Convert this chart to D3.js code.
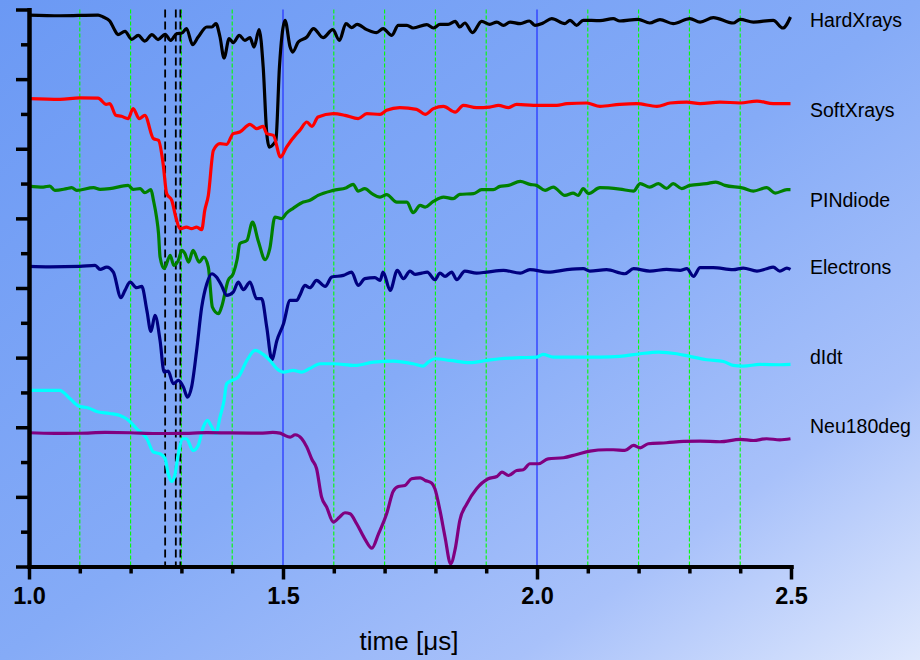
<!DOCTYPE html>
<html>
<head>
<meta charset="utf-8">
<script src="https://cdn.jsdelivr.net/npm/d3@7"></script>
<style>
  html, body { margin: 0; padding: 0; }
  svg { display: block; font-family: "Liberation Sans", Arial, sans-serif; }
</style>
</head>
<body>
<div id="chart"></div>
<script>
// time in µs, signal in stacked display units (y axis runs 0..8, no labels)

const xMajorTicks = [1.0, 1.5, 2.0, 2.5];
const xMinorTicks = [1.1, 1.2, 1.3, 1.4, 1.6, 1.7, 1.8, 1.9, 2.1, 2.2, 2.3, 2.4];
const yMajorTicks = [0, 1, 2, 3, 4, 5, 6, 7, 8];
const yMinorTicks = [0.5, 1.5, 2.5, 3.5, 4.5, 5.5, 6.5, 7.5];
const greenGrid = [1.1, 1.2, 1.3, 1.4, 1.6, 1.7, 1.8, 1.9, 2.1, 2.2, 2.3, 2.4];
const blueGrid = [1.5, 2.0];
const markerTimes = [1.268, 1.289, 1.298];

const seriesNames = ["HardXrays", "SoftXrays", "PINdiode", "Electrons", "dIdt", "Neu180deg"];

const hardXrays = [
  [1.000,7.92],[1.061,7.91],[1.136,7.92],[1.146,7.892],[1.159,7.835],[1.169,7.701],[1.175,7.639],
  [1.189,7.687],[1.202,7.572],[1.215,7.629],[1.228,7.547],[1.242,7.639],[1.254,7.568],[1.268,7.644],
  [1.279,7.557],[1.291,7.654],[1.301,7.662],[1.310,7.726],[1.322,7.496],[1.333,7.605],[1.350,7.749],
  [1.360,7.749],[1.368,7.797],[1.376,7.605],[1.384,7.303],[1.394,7.582],[1.402,7.524],[1.414,7.629],
  [1.425,7.557],[1.435,7.596],[1.443,7.461],[1.453,7.711],[1.461,7.174],[1.468,6.221],[1.473,6.024],
  [1.482,6.073],[1.486,6.121],[1.493,7.174],[1.498,7.629],[1.504,7.845],[1.514,7.461],[1.519,7.389],
  [1.530,7.533],[1.547,7.605],[1.560,7.726],[1.579,7.596],[1.598,7.711],[1.611,7.557],[1.624,7.797],
  [1.635,7.740],[1.646,7.787],[1.665,7.711],[1.684,7.668],[1.697,7.726],[1.714,7.629],[1.727,7.773],
  [1.744,7.773],[1.756,7.734],[1.783,7.783],[1.796,7.734],[1.809,7.787],[1.825,7.787],[1.839,7.830],
  [1.848,7.749],[1.858,7.806],[1.873,7.668],[1.891,7.830],[1.907,7.787],[1.921,7.820],[1.934,7.773],
  [1.947,7.820],[1.967,7.797],[1.985,7.835],[1.996,7.773],[2.012,7.806],[2.029,7.869],[2.055,7.797],
  [2.065,7.845],[2.078,7.773],[2.091,7.845],[2.124,7.840],[2.150,7.869],[2.163,7.835],[2.199,7.859],
  [2.222,7.806],[2.242,7.855],[2.268,7.797],[2.301,7.869],[2.321,7.820],[2.347,7.884],[2.386,7.806],
  [2.400,7.859],[2.426,7.820],[2.465,7.845],[2.484,7.734],[2.499,7.892]
];

const softXrays = [
  [1.000,6.720],[1.061,6.710],[1.100,6.731],[1.136,6.728],[1.152,6.638],[1.159,6.648],[1.171,6.480],
  [1.182,6.466],[1.195,6.432],[1.205,6.576],[1.217,6.432],[1.228,6.480],[1.245,6.145],[1.255,6.121],
  [1.264,5.786],[1.271,5.355],[1.281,5.259],[1.289,5.019],[1.297,4.852],[1.310,4.875],[1.320,4.852],
  [1.330,4.875],[1.340,4.838],[1.346,5.115],[1.353,5.330],[1.363,5.977],[1.376,6.073],[1.389,6.063],
  [1.402,6.217],[1.415,6.240],[1.435,6.351],[1.448,6.289],[1.461,6.322],[1.468,6.217],[1.481,6.193],
  [1.495,5.881],[1.507,6.024],[1.527,6.217],[1.533,6.264],[1.547,6.384],[1.557,6.322],[1.569,6.455],
  [1.599,6.504],[1.622,6.480],[1.648,6.432],[1.665,6.504],[1.691,6.494],[1.704,6.552],[1.730,6.591],
  [1.763,6.566],[1.780,6.494],[1.796,6.576],[1.816,6.609],[1.839,6.527],[1.855,6.624],[1.881,6.591],
  [1.907,6.599],[1.924,6.624],[1.944,6.591],[1.960,6.638],[1.993,6.624],[2.039,6.624],[2.059,6.648],
  [2.098,6.657],[2.124,6.609],[2.163,6.638],[2.196,6.648],[2.236,6.609],[2.262,6.657],[2.295,6.671],
  [2.321,6.648],[2.360,6.671],[2.400,6.657],[2.433,6.685],[2.465,6.648],[2.499,6.648]
];

const pinDiode = [
  [1.000,5.464],[1.028,5.450],[1.041,5.464],[1.051,5.402],[1.074,5.427],[1.084,5.441],[1.094,5.402],
  [1.127,5.441],[1.140,5.417],[1.159,5.427],[1.195,5.474],[1.205,5.417],[1.219,5.427],[1.228,5.369],
  [1.240,5.412],[1.245,5.259],[1.251,5.019],[1.255,4.780],[1.258,4.444],[1.266,4.277],[1.278,4.468],
  [1.285,4.325],[1.294,4.397],[1.301,4.540],[1.307,4.493],[1.314,4.372],[1.323,4.540],[1.335,4.372],
  [1.344,4.444],[1.353,4.300],[1.361,3.726],[1.373,3.631],[1.379,3.726],[1.392,4.109],[1.402,4.205],
  [1.410,4.421],[1.415,4.637],[1.429,4.684],[1.440,4.947],[1.451,4.684],[1.465,4.407],[1.474,4.565],
  [1.484,5.019],[1.497,4.996],[1.507,5.076],[1.520,5.144],[1.540,5.234],[1.553,5.259],[1.569,5.330],
  [1.599,5.402],[1.625,5.441],[1.638,5.489],[1.648,5.392],[1.661,5.427],[1.675,5.355],[1.691,5.306],
  [1.704,5.341],[1.724,5.234],[1.744,5.234],[1.756,5.082],[1.770,5.187],[1.780,5.162],[1.796,5.244],
  [1.816,5.306],[1.835,5.283],[1.848,5.345],[1.875,5.355],[1.891,5.412],[1.914,5.412],[1.927,5.460],
  [1.944,5.474],[1.967,5.532],[1.986,5.489],[1.999,5.474],[2.016,5.402],[2.032,5.450],[2.055,5.330],
  [2.071,5.364],[2.081,5.330],[2.091,5.427],[2.101,5.355],[2.124,5.441],[2.163,5.420],[2.190,5.392],
  [2.203,5.499],[2.222,5.450],[2.239,5.499],[2.255,5.431],[2.268,5.499],[2.285,5.427],[2.301,5.474],
  [2.334,5.499],[2.352,5.522],[2.370,5.474],[2.406,5.435],[2.426,5.392],[2.452,5.441],[2.469,5.364],
  [2.492,5.412],[2.499,5.412]
];

const electrons = [
  [1.000,4.310],[1.041,4.303],[1.100,4.310],[1.130,4.325],[1.140,4.267],[1.153,4.300],[1.166,4.228],
  [1.181,3.861],[1.189,3.966],[1.199,4.085],[1.212,4.004],[1.222,4.023],[1.232,3.678],[1.240,3.376],
  [1.248,3.606],[1.258,3.247],[1.266,2.792],[1.274,2.806],[1.284,2.625],[1.294,2.672],[1.304,2.576],
  [1.312,2.432],[1.320,2.576],[1.330,3.103],[1.340,3.726],[1.350,4.062],[1.360,4.205],[1.369,4.157],
  [1.379,4.037],[1.389,3.894],[1.402,3.941],[1.412,4.085],[1.422,3.976],[1.435,4.085],[1.448,3.846],
  [1.458,3.846],[1.468,3.438],[1.478,2.970],[1.488,3.247],[1.501,3.487],[1.514,3.822],[1.527,3.822],
  [1.533,3.894],[1.543,4.037],[1.553,4.004],[1.566,4.109],[1.583,4.023],[1.596,4.157],[1.619,4.181],
  [1.635,4.228],[1.648,4.037],[1.661,4.134],[1.681,4.148],[1.691,4.109],[1.697,4.228],[1.711,3.966],
  [1.725,4.253],[1.737,4.134],[1.750,4.243],[1.760,4.195],[1.773,4.214],[1.784,4.228],[1.799,4.119],
  [1.809,4.214],[1.819,4.167],[1.832,4.228],[1.842,4.119],[1.858,4.243],[1.881,4.214],[1.901,4.228],
  [1.934,4.253],[1.967,4.214],[1.986,4.263],[2.022,4.228],[2.059,4.263],[2.091,4.277],[2.104,4.243],
  [2.137,4.263],[2.173,4.205],[2.190,4.277],[2.222,4.243],[2.255,4.267],[2.282,4.253],[2.295,4.277],
  [2.308,4.167],[2.321,4.292],[2.347,4.292],[2.386,4.263],[2.406,4.286],[2.433,4.243],[2.452,4.277],
  [2.465,4.300],[2.478,4.243],[2.492,4.286],[2.499,4.267]
];

const dIdt = [
  [1.000,2.529],[1.060,2.529],[1.081,2.409],[1.097,2.306],[1.117,2.277],[1.133,2.227],[1.159,2.198],
  [1.179,2.170],[1.192,2.122],[1.212,1.978],[1.232,1.835],[1.245,1.642],[1.258,1.619],[1.268,1.547],
  [1.274,1.332],[1.281,1.221],[1.287,1.307],[1.294,1.619],[1.303,1.835],[1.310,1.835],[1.323,1.667],
  [1.333,1.739],[1.343,2.001],[1.351,2.098],[1.360,2.001],[1.368,1.907],[1.376,2.145],[1.384,2.385],
  [1.389,2.625],[1.399,2.672],[1.412,2.720],[1.429,2.960],[1.445,3.103],[1.461,3.046],[1.474,2.960],
  [1.488,2.841],[1.501,2.792],[1.520,2.816],[1.537,2.792],[1.553,2.845],[1.573,2.912],[1.599,2.912],
  [1.642,2.888],[1.678,2.935],[1.717,2.950],[1.756,2.912],[1.776,2.878],[1.786,2.935],[1.799,2.984],
  [1.829,2.960],[1.868,2.927],[1.901,2.960],[1.927,2.984],[1.967,2.999],[1.999,3.007],[2.012,3.046],
  [2.032,3.007],[2.078,3.007],[2.124,3.007],[2.163,3.017],[2.203,3.056],[2.239,3.079],[2.275,3.056],
  [2.301,3.017],[2.334,2.970],[2.367,2.945],[2.386,2.888],[2.406,2.878],[2.439,2.902],[2.478,2.898],
  [2.499,2.902]
];

const neu180deg = [
  [1.000,1.921],[1.050,1.912],[1.100,1.914],[1.150,1.925],[1.199,1.921],[1.250,1.910],[1.297,1.911],
  [1.350,1.922],[1.396,1.918],[1.455,1.915],[1.480,1.925],[1.494,1.915],[1.501,1.892],[1.514,1.858],
  [1.524,1.892],[1.537,1.835],[1.547,1.714],[1.557,1.537],[1.566,1.408],[1.576,0.996],[1.586,0.852],
  [1.599,0.637],[1.611,0.708],[1.622,0.772],[1.632,0.757],[1.645,0.614],[1.661,0.398],[1.675,0.263],
  [1.688,0.470],[1.704,0.757],[1.717,1.082],[1.727,1.149],[1.740,1.164],[1.753,1.260],[1.770,1.274],
  [1.780,1.236],[1.793,1.197],[1.799,1.116],[1.809,0.805],[1.819,0.421],[1.830,0.039],[1.839,0.254],
  [1.848,0.661],[1.862,0.901],[1.881,1.116],[1.904,1.260],[1.921,1.293],[1.931,1.355],[1.944,1.307],
  [1.960,1.379],[1.973,1.389],[1.986,1.476],[2.003,1.476],[2.022,1.547],[2.052,1.562],[2.078,1.609],
  [2.104,1.657],[2.137,1.677],[2.150,1.677],[2.173,1.667],[2.190,1.739],[2.203,1.705],[2.219,1.763],
  [2.255,1.777],[2.288,1.796],[2.321,1.800],[2.360,1.792],[2.400,1.825],[2.426,1.810],[2.452,1.835],
  [2.478,1.820],[2.499,1.835]
];

const seriesData = [hardXrays, softXrays, pinDiode, electrons, dIdt, neu180deg];

// ---- styling / layout ----
const colors = ["#000000", "#ff0000", "#008000", "#000080", "#00ffff", "#800080"];
const labelBaselines = [26.7, 116.7, 206.7, 274, 364, 433.3];
const W = 920, H = 660;

const x = d3.scaleLinear().domain([1.0, 2.5]).range([29, 791]);
const y = d3.scaleLinear().domain([0, 8]).range([566.5, 9.5]);

const svg = d3.select("#chart").append("svg")
    .attr("width", W)
    .attr("height", H);

const grad = svg.append("defs").append("linearGradient")
    .attr("id", "bg")
    .attr("x1", 0).attr("y1", 0)
    .attr("x2", 1).attr("y2", 1);
grad.selectAll("stop")
    .data([[0, "#6b99f4"], [0.5, "#85abf7"], [0.78, "#a8c1fa"], [1, "#dfe8fd"]])
    .join("stop")
    .attr("offset", d => d[0])
    .attr("stop-color", d => d[1]);

svg.append("rect")
    .attr("width", W)
    .attr("height", H)
    .attr("fill", "url(#bg)");

// grid lines
svg.append("g").selectAll("line")
    .data(greenGrid)
    .join("line")
    .attr("x1", d => x(d)).attr("x2", d => x(d))
    .attr("y1", y(8)).attr("y2", y(0))
    .attr("stroke", "#00ff00")
    .attr("stroke-width", 1.1)
    .attr("stroke-dasharray", "4,2");

svg.append("g").selectAll("line")
    .data(blueGrid)
    .join("line")
    .attr("x1", d => x(d)).attr("x2", d => x(d))
    .attr("y1", y(8)).attr("y2", y(0))
    .attr("stroke", "#3040ff")
    .attr("stroke-width", 1.4);

svg.append("g").selectAll("line")
    .data(markerTimes)
    .join("line")
    .attr("x1", d => x(d)).attr("x2", d => x(d))
    .attr("y1", y(8)).attr("y2", y(0))
    .attr("stroke", "#000")
    .attr("stroke-width", 1.8)
    .attr("stroke-dasharray", "8,4");

// traces
const line = d3.line()
    .x(d => x(d[0]))
    .y(d => y(d[1]))
    .curve(d3.curveMonotoneX);

svg.append("g").selectAll("path")
    .data(seriesData)
    .join("path")
    .attr("d", line)
    .attr("fill", "none")
    .attr("stroke", (d, i) => colors[i])
    .attr("stroke-width", 3.2)
    .attr("stroke-linejoin", "round");

// axes
function styleAxis(g) {
  g.select(".domain").attr("stroke", "#000").attr("stroke-width", 4).attr("stroke-linecap", "square");
  g.selectAll(".tick line").attr("stroke", "#000").attr("stroke-width", 3.5);
}

svg.append("g")
    .attr("transform", `translate(0,${y(0)})`)
    .call(d3.axisBottom(x).tickValues(xMinorTicks).tickSize(7).tickSizeOuter(0).tickFormat(""))
    .call(styleAxis);

svg.append("g")
    .attr("transform", `translate(0,${y(0)})`)
    .call(d3.axisBottom(x).tickValues(xMajorTicks).tickSize(13).tickSizeOuter(0)
      .tickPadding(8).tickFormat(d3.format(".1f")))
    .call(styleAxis)
    .call(g => g.selectAll("text")
      .attr("fill", "#000")
      .attr("font-size", 23.5)
      .attr("font-weight", "bold")
      .attr("font-family", "'Liberation Sans', Arial, sans-serif"));

svg.append("g")
    .attr("transform", `translate(${x(1.0)},0)`)
    .call(d3.axisLeft(y).tickValues(yMinorTicks).tickSize(8).tickSizeOuter(0).tickFormat(""))
    .call(styleAxis);

svg.append("g")
    .attr("transform", `translate(${x(1.0)},0)`)
    .call(d3.axisLeft(y).tickValues(yMajorTicks).tickSize(13).tickSizeOuter(0).tickFormat(""))
    .call(styleAxis);

svg.append("text")
    .attr("x", 409)
    .attr("y", 650)
    .attr("text-anchor", "middle")
    .attr("font-size", 26)
    .attr("fill", "#000")
    .text("time [μs]");

// series labels
svg.append("g").selectAll("text")
    .data(seriesNames)
    .join("text")
    .attr("x", 810)
    .attr("y", (d, i) => labelBaselines[i])
    .attr("font-size", 19.5)
    .attr("fill", "#000")
    .text(d => d);
</script>
</body>
</html>
